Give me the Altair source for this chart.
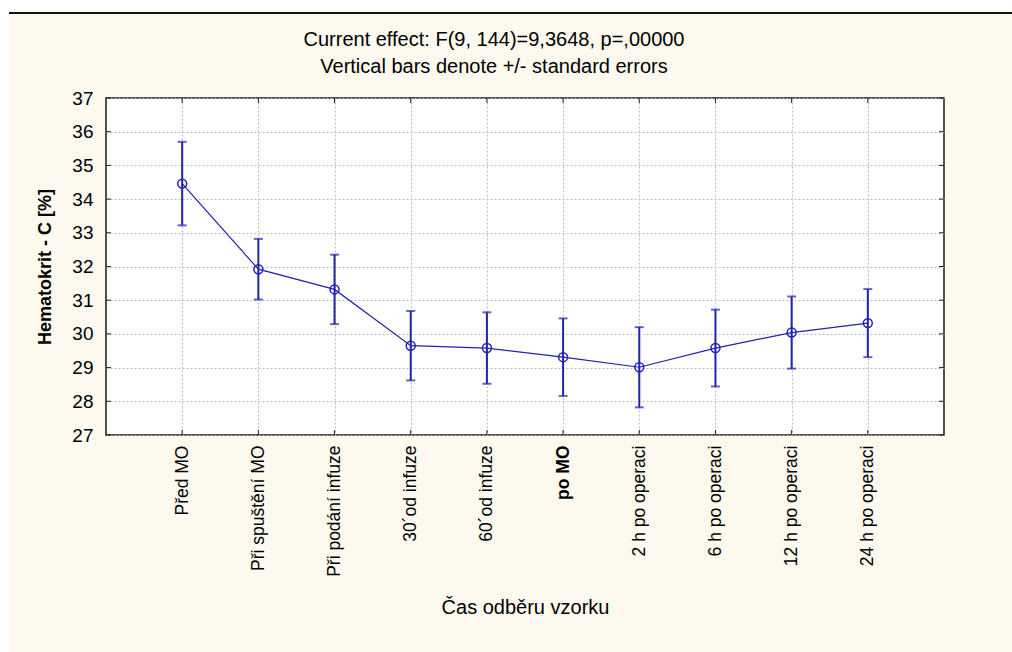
import altair as alt
import pandas as pd

# Sampling times (x categories)
categories = [
    "Před MO",
    "Při spuštění MO",
    "Při podání infuze",
    "30´od infuze",
    "60´od infuze",
    "po MO",
    "2 h po operaci",
    "6 h po operaci",
    "12 h po operaci",
    "24 h po operaci",
]
# Mean haematocrit [%] and its standard error at each sampling time
means = [34.46, 31.92, 31.32, 29.65, 29.58, 29.31, 29.01, 29.58, 30.04, 30.32]
std_errors = [1.24, 0.90, 1.03, 1.03, 1.06, 1.15, 1.19, 1.14, 1.07, 1.01]
# Y axis tick values
y_ticks = [27, 28, 29, 30, 31, 32, 33, 34, 35, 36, 37]
# Heading lines
heading = "Current effect: F(9, 144)=9,3648, p=,00000"
subheading = "Vertical bars denote +/- standard errors"

BLUE = "#2222b0"
FONT = "Liberation Sans"
GRID = "#bcbcbc"
W, H = 838, 337

df = pd.DataFrame({"cas": categories, "mean": means, "se": std_errors})
df["lo"] = df["mean"] - df["se"]
df["hi"] = df["mean"] + df["se"]
ticks_df = pd.DataFrame({"v": y_ticks})
cats_df = pd.DataFrame({"cas": categories})

x_scale = alt.Scale(type="point", domain=categories, padding=1)
y_scale = alt.Scale(domain=[27, 37], nice=False, zero=False)

x_axis = alt.Axis(
    title="Čas odběru vzorku",
    labelAngle=-90,
    labelPadding=10,
    labelFontSize=17.5,
    labelFont=FONT,
    labelColor="#000",
    labelOverlap=False,
    labelFontWeight={"expr": "datum.value == 'po MO' ? 'bold' : 'normal'"},
    ticks=False,
    domain=False,
    grid=True,
    gridDash=[2, 2],
    gridColor=GRID,
    titleFont=FONT,
    titleFontSize=20,
    titleFontWeight="normal",
    titleColor="#000",
    titleBaseline="alphabetic",
    titleY=178,
)
y_axis = alt.Axis(
    title="Hematokrit - C [%]",
    values=y_ticks,
    labelPadding=13,
    labelFontSize=19,
    labelFont=FONT,
    labelColor="#000",
    labelOverlap=False,
    labelBound=False,
    labelFlush=False,
    ticks=False,
    domain=False,
    grid=True,
    gridDash=[2, 2],
    gridColor=GRID,
    titleFont=FONT,
    titleFontSize=18,
    titleFontWeight="bold",
    titleColor="#000",
    titleAngle=-90,
    titleAlign="center",
    titleBaseline="middle",
    titleX=-61,
    titleY=H / 2,
)

one = alt.Data(values=[{}])

# white page strips and the black rule above the panel
top_strip = alt.Chart(one).mark_rect(color="white").encode(
    x=alt.value(-106), x2=alt.value(906), y=alt.value(-98), y2=alt.value(-85)
)
left_strip = alt.Chart(one).mark_rect(color="white").encode(
    x=alt.value(-106), x2=alt.value(-97), y=alt.value(-98), y2=alt.value(554)
)
top_rule = alt.Chart(one).mark_rect(color="#111").encode(
    x=alt.value(-97), x2=alt.value(906), y=alt.value(-86), y2=alt.value(-84)
)

# two-line heading above the plot
head1 = alt.Chart(alt.Data(values=[{"t": heading}])).mark_text(
    font=FONT, fontSize=20, color="#000", align="center", baseline="middle"
).encode(text="t:N", x=alt.value(388), y=alt.value(-58))
head2 = alt.Chart(alt.Data(values=[{"t": subheading}])).mark_text(
    font=FONT, fontSize=20, color="#000", align="center", baseline="middle"
).encode(text="t:N", x=alt.value(388), y=alt.value(-31))

X = lambda field: alt.X(field, scale=x_scale, axis=x_axis)
Y = lambda field: alt.Y(field, scale=y_scale, axis=y_axis)

# inward ticks on all four sides of the frame
tick_col = "#222"
yt_left = alt.Chart(ticks_df).mark_rule(color=tick_col).encode(
    y=Y("v:Q"), x=alt.value(0), x2=alt.value(5)
)
yt_right = alt.Chart(ticks_df).mark_rule(color=tick_col).encode(
    y=Y("v:Q"), x=alt.value(W - 5), x2=alt.value(W)
)
xt_bottom = alt.Chart(cats_df).mark_rule(color=tick_col).encode(
    x=X("cas:N"), y=alt.value(H - 5), y2=alt.value(H)
)
xt_top = alt.Chart(cats_df).mark_rule(color=tick_col).encode(
    x=X("cas:N"), y=alt.value(0), y2=alt.value(5)
)

base = alt.Chart(df)

bars = base.mark_rule(color=BLUE, strokeWidth=2).encode(
    x=X("cas:N"), y=Y("lo:Q"), y2="hi:Q"
)
cap_lo = base.mark_tick(color=BLUE, orient="horizontal", size=9, thickness=2).encode(
    x=X("cas:N"), y=Y("lo:Q")
)
cap_hi = base.mark_tick(color=BLUE, orient="horizontal", size=9, thickness=2).encode(
    x=X("cas:N"), y=Y("hi:Q")
)
line = base.mark_line(color=BLUE, strokeWidth=1.2).encode(
    x=X("cas:N"), y=Y("mean:Q")
)
points = base.mark_point(
    shape="circle", filled=False, color=BLUE, size=80, strokeWidth=1.5, opacity=1
).encode(x=X("cas:N"), y=Y("mean:Q"))

chart = (
    alt.layer(
        top_strip, left_strip, top_rule, head1, head2,
        yt_left, yt_right, xt_bottom, xt_top,
        bars, cap_lo, cap_hi, line, points,
    )
    .properties(
        width=W,
        height=H,
        padding={"left": 106, "top": 98, "right": 68, "bottom": 217},
        autosize=alt.AutoSizeParams(type="none"),
        background="#fef9ee",
    )
    .configure_view(fill="white", stroke="#1a1a1a", strokeWidth=1.5)
)

chart.save("out.html", embed_options={"renderer": "svg", "actions": False})
